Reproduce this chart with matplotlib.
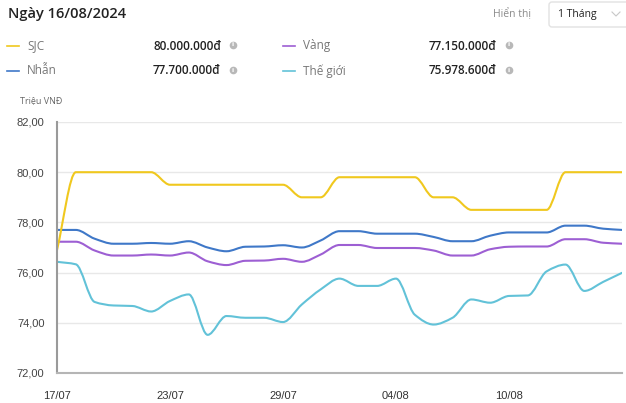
import numpy as np
import pandas as pd
import matplotlib
matplotlib.use("Agg")
import matplotlib.pyplot as plt
from matplotlib.path import Path
from matplotlib.patches import PathPatch, FancyBboxPatch

# ---------------------------------------------------------------------------
# Data (million VND per tael), 17/07/2024 -> 16/08/2024
# ---------------------------------------------------------------------------
dates = pd.date_range("2024-07-17", "2024-08-16", freq="D")
tick_days = [0, 6, 12, 18, 24]

sjc = [76.9, 80.0, 80.0, 80.0, 80.0, 80.0, 79.5, 79.5, 79.5, 79.5, 79.5,
       79.5, 79.5, 79.0, 79.0, 79.8, 79.8, 79.8, 79.8, 79.8, 79.0, 79.0,
       78.5, 78.5, 78.5, 78.5, 78.5, 80.0, 80.0, 80.0, 80.0]
nhan = [77.7, 77.7, 77.35, 77.15, 77.15, 77.18, 77.15, 77.25, 77.0, 76.85,
        77.03, 77.04, 77.09, 77.0, 77.28, 77.65, 77.65, 77.55, 77.55, 77.55,
        77.42, 77.25, 77.25, 77.47, 77.6, 77.6, 77.6, 77.87, 77.87, 77.75,
        77.7]
vang = [77.23, 77.23, 76.88, 76.68, 76.68, 76.72, 76.68, 76.8, 76.45, 76.3,
        76.47, 76.48, 76.55, 76.43, 76.72, 77.1, 77.1, 76.98, 76.98, 76.98,
        76.88, 76.68, 76.68, 76.93, 77.03, 77.04, 77.04, 77.33, 77.33, 77.19,
        77.15]
the_gioi = [76.43, 76.33, 74.83, 74.69, 74.67, 74.45, 74.87, 75.13, 73.52,
            74.27, 74.2, 74.2, 74.03, 74.73, 75.33, 75.76, 75.47, 75.47,
            75.76, 74.32, 73.93, 74.2, 74.93, 74.8, 75.07, 75.09, 76.05, 76.32,
            75.27, 75.63, 75.99]

series_names = ["SJC", "Vàng", "Nhẫn", "Thế giới"]
series_latest = ["80.000.000đ", "77.150.000đ", "77.700.000đ", "75.978.600đ"]
series_colors = ["#f0c81e", "#9d5fd3", "#3f78c8", "#62c2d8"]
y_ticks = [72, 74, 76, 78, 80, 82]


def smooth_path(xs, ys):
    # monotone cubic (Fritsch-Carlson) drawn as bezier segments
    xs = np.asarray(xs, float)
    ys = np.asarray(ys, float)
    h = np.diff(xs)
    d = np.diff(ys) / h
    m = np.zeros_like(ys)
    m[0], m[-1] = d[0], d[-1]
    for k in range(1, len(ys) - 1):
        if d[k - 1] * d[k] > 0:
            m[k] = 2.0 / (1.0 / d[k - 1] + 1.0 / d[k])
    verts = [(xs[0], ys[0])]
    codes = [Path.MOVETO]
    for k in range(len(xs) - 1):
        verts += [(xs[k] + h[k] / 3, ys[k] + m[k] * h[k] / 3),
                  (xs[k + 1] - h[k] / 3, ys[k + 1] - m[k + 1] * h[k] / 3),
                  (xs[k + 1], ys[k + 1])]
        codes += [Path.CURVE4] * 3
    return Path(verts, codes)


fig = plt.figure(figsize=(6.26, 4.03), dpi=100)

# ---------------------------------------------------------------------------
# Chart
# ---------------------------------------------------------------------------
ax = fig.add_axes([57 / 626, 1 - 373 / 403, 565 / 626, 251 / 403])
x = np.arange(len(dates))
# order of drawing: world, ring, gold, SJC
for vals, col in [(the_gioi, series_colors[3]), (vang, series_colors[1]),
                  (nhan, series_colors[2]), (sjc, series_colors[0])]:
    ax.add_patch(PathPatch(smooth_path(x, vals), fill=False, edgecolor=col,
                           lw=1.5, capstyle="round", joinstyle="round"))

ax.set_xlim(0, len(x) - 1)
ax.set_ylim(72, 82)
ax.set_yticks(y_ticks)
ax.set_yticklabels([f"{v:.2f}".replace(".", ",") for v in y_ticks],
                   fontsize=8, color="#444444", family="Liberation Sans")
ax.set_xticks(tick_days)
ax.set_xticklabels([dates[i].strftime("%d/%m") for i in tick_days],
                   fontsize=8, color="#333333", family="Liberation Sans")
ax.tick_params(axis="both", length=0)
ax.tick_params(axis="y", pad=9)
ax.tick_params(axis="x", pad=13)
ax.grid(axis="y", color="#e8e8e8", lw=1)
ax.set_axisbelow(True)
for s in ["top", "right"]:
    ax.spines[s].set_visible(False)
ax.spines["left"].set_color("#9a9a9a")
ax.spines["left"].set_linewidth(1.5)
ax.spines["bottom"].set_color("#b5b5b5")
ax.spines["bottom"].set_linewidth(1.5)

# ---------------------------------------------------------------------------
# Header + legend on a pixel overlay
# ---------------------------------------------------------------------------
ov = fig.add_axes([0, 0, 1, 1], zorder=5)
ov.set_xlim(0, 626)
ov.set_ylim(403, 0)
ov.axis("off")
ov.patch.set_alpha(0)

ov.text(8, 14, "Ngày 16/08/2024", fontsize=10.5, fontweight="semibold",
        family="Open Sans", color="#222222", va="center")
ov.text(493, 14, "Hiển thị", fontsize=7.5, family="Open Sans",
        color="#8a8a8a", va="center")
ov.add_patch(FancyBboxPatch((549, 2), 90, 25, boxstyle="round,pad=0,rounding_size=3",
                            fc="white", ec="#e2e2e2", lw=1))
ov.text(558, 14, "1 Tháng", fontsize=7.5, family="Open Sans",
        color="#222222", va="center")
ov.plot([612, 616, 620], [12, 16, 12], color="#c8c8c8", lw=0.8)

ov.text(20, 101, "Triệu VNĐ", fontsize=6.5, family="Open Sans",
        color="#666666", va="center")

legend_pos = [(7, 46), (283, 46), (7, 71), (283, 71)]
for (lx, ly), name, val, col in zip(legend_pos, series_names, series_latest,
                                    series_colors):
    ov.plot([lx, lx + 12], [ly, ly], color=col, lw=1.2)
    ov.text(lx + 20, ly, name, fontsize=8.5, family="Open Sans", color="#777777",
            va="center")
    ov.text(lx + 146, ly, val, fontsize=8.5, family="Open Sans",
            fontweight="semibold", color="#222222", va="center")
    ov.plot(lx + 226, ly - 1, "o", ms=5.5, color="#b8b8b8", mec="none")
    ov.text(lx + 226, ly - 1, "i", fontsize=4.5, color="white",
            ha="center", va="center", fontweight="bold")

fig.savefig("out.png", dpi=100)
